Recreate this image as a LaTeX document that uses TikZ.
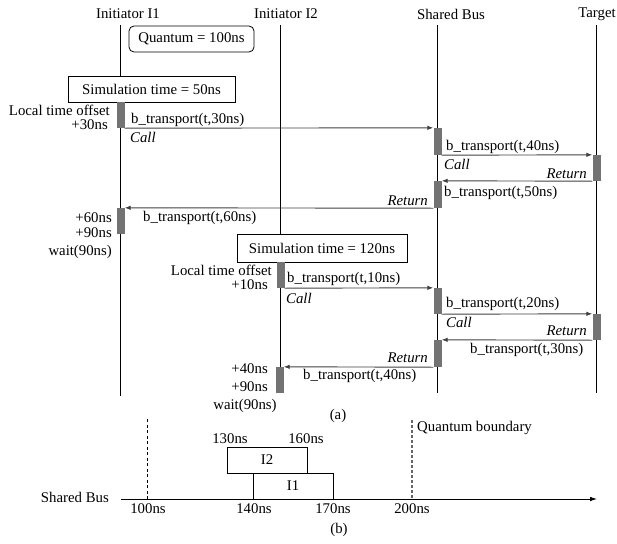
\documentclass[tikz,border=0pt]{standalone}
\usepackage{fontspec}
\setmainfont{Liberation Serif}
\usetikzlibrary{arrows.meta}

\begin{document}
\begin{tikzpicture}[x=1pt,y=-1pt,
  txt/.style={font=\fontsize{14.8}{17}\selectfont, inner sep=0pt},
  itx/.style={font=\fontsize{14.8}{17}\selectfont\itshape, inner sep=0pt},
  life/.style={line width=1.6pt},
  bar/.style={fill=black!55, draw=none, minimum width=8pt, inner sep=0pt},
  msg/.style={draw=black!75, line width=0.9pt, -{Latex[length=6pt,width=4.5pt]}},
  frame/.style={draw, line width=0.8pt, fill=white, inner sep=0pt,
                font=\fontsize{14.8}{17}\selectfont},
  tip/.style={-{Latex[length=7pt,width=4.5pt]}},
]
\useasboundingbox (0,0) rectangle (617,543);

% ---------- (a) lifelines ----------
\node[txt] (hI1) at (128,14) {Initiator I1};
\node[txt] (hI2) at (286,14) {Initiator I2};
\node[txt] (hBus) at (451,14) {Shared Bus};
\node[txt] (hTgt) at (597,14) {Target};

\coordinate (I1top) at (120.5,25);  \coordinate (I1bot) at (120.5,396);
\coordinate (I2top) at (280.5,25);  \coordinate (I2bot) at (280.5,393);
\coordinate (Btop)  at (437.5,25);  \coordinate (Bbot)  at (437.5,393);
\coordinate (Ttop)  at (596.5,25);  \coordinate (Tbot)  at (596.5,393);
\draw[life] (I1top) -- (I1bot);
\draw[life] (I2top) -- (I2bot);
\draw[life] (Btop) -- (Bbot);
\draw[life] (Ttop) -- (Tbot);

% ---------- boxes ----------
\node[frame, rounded corners=5pt, minimum width=125pt, minimum height=26pt]
  (quantum) at (191.5,39) {Quantum = 100ns};
\node[frame, minimum width=167pt, minimum height=26pt]
  (sim1) at (151.5,89) {Simulation time = 50ns};
\node[frame, minimum width=170pt, minimum height=28pt]
  (sim2) at (322,248) {Simulation time = 120ns};

% ---------- activation bars ----------
\node[bar, minimum height=26pt] (b1)  at (120.5,115)   {};
\node[bar, minimum height=27pt] (b2)  at (437.5,141.5) {};
\node[bar, minimum height=26pt] (b3)  at (596.5,168)   {};
\node[bar, minimum height=27pt] (b4)  at (437.5,194.5) {};
\node[bar, minimum height=26pt] (b5)  at (120.5,221)   {};
\node[bar, minimum height=26pt] (b6)  at (280.5,275)   {};
\node[bar, minimum height=26pt] (b7)  at (437.5,301)   {};
\node[bar, minimum height=26pt] (b8)  at (596.5,327)   {};
\node[bar, minimum height=27pt] (b9)  at (437.5,353.5) {};
\node[bar, minimum height=26pt] (b10) at (279.5,380)   {};

% ---------- messages ----------
\draw[msg] (b1.south east) -- (b2.north west);
\draw[msg] (b2.south east) -- (b3.north west);
\draw[msg] (b3.south west) -- (b4.north east);
\draw[msg] (b4.south west) -- (b5.north east);
\draw[msg] (b6.south east) -- (b7.north west);
\draw[msg] (b7.south east) -- (b8.north west);
\draw[msg] (b8.south west) -- (b9.north east);
\draw[msg] (b9.south west) -- (b10.north east);

% ---------- labels, first transaction ----------
\node[txt, anchor=east] (lto1) at (110,110.5) {Local time offset};
\node[txt, anchor=east] (off30) at (108,125) {+30ns};
\node[txt, anchor=west] (m30) at (131,120) {b\_transport(t,30ns)};
\node[itx, anchor=west] (c1) at (130,137) {Call};
\node[txt, anchor=west] (m40) at (446,147) {b\_transport(t,40ns)};
\node[itx, anchor=west] (c2) at (444,164) {Call};
\node[itx, anchor=east] (r1) at (587,174) {Return};
\node[txt, anchor=west] (m50) at (444,193) {b\_transport(t,50ns)};
\node[itx, anchor=east] (r2) at (428,201) {Return};
\node[txt, anchor=east] (off60) at (112,218) {+60ns};
\node[txt, anchor=east] (off90a) at (112,233) {+90ns};
\node[txt, anchor=east] (w1) at (112,252) {wait(90ns)};
\node[txt, anchor=west] (m60) at (143,218) {b\_transport(t,60ns)};

% ---------- labels, second transaction ----------
\node[txt, anchor=east] (lto2) at (272,270) {Local time offset};
\node[txt, anchor=east] (off10) at (268,284.5) {+10ns};
\node[txt, anchor=west] (m10) at (287,279) {b\_transport(t,10ns)};
\node[itx, anchor=west] (c3) at (286,298) {Call};
\node[txt, anchor=west] (m20) at (446,304) {b\_transport(t,20ns)};
\node[itx, anchor=west] (c4) at (446,322) {Call};
\node[itx, anchor=east] (r3) at (587,331) {Return};
\node[txt, anchor=west] (m30b) at (470,350) {b\_transport(t,30ns)};
\node[itx, anchor=east] (r4) at (428,358) {Return};
\node[txt, anchor=west] (m40b) at (303,376) {b\_transport(t,40ns)};
\node[txt, anchor=east] (off40) at (268,369) {+40ns};
\node[txt, anchor=east] (off90b) at (268,387) {+90ns};
\node[txt] (w2) at (245,406) {wait(90ns)};

\node[txt] (capa) at (338,416) {(a)};

% ---------- (b) bus occupancy ----------
\coordinate (ax0) at (121,499);
\coordinate (ax1) at (597,499);
\coordinate (q1t) at (147,419);
\coordinate (q1b) at (147,499);
\coordinate (q2t) at (412,420);
\coordinate (q2b) at (412,499);

\draw[dashed, line width=0.7pt, dash pattern=on 3pt off 2.5pt] (q1t) -- (q1b);
\draw[draw=black!60, line width=1.1pt, dash pattern=on 3pt off 2pt] (q2t) -- (q2b);

\node[frame, minimum width=80pt, minimum height=26pt] (bxI2) at (267,460) {I2};
\node[frame, minimum width=80pt, minimum height=26pt] (bxI1) at (293,486) {I1};

\draw[line width=0.8pt, tip] (ax0) -- (ax1);

\node[txt, anchor=east] (sb) at (109,497) {Shared Bus};
\node[txt] (t130) at (230,439) {130ns};
\node[txt] (t160) at (306,439) {160ns};
\node[txt] (t100) at (148,509) {100ns};
\node[txt] (t140) at (254,509) {140ns};
\node[txt] (t170) at (333,509) {170ns};
\node[txt] (t200) at (412,509) {200ns};
\node[txt, anchor=west] (qb) at (417,428) {Quantum boundary};
\node[txt] (capb) at (339,530) {(b)};
\end{tikzpicture}
\end{document}
